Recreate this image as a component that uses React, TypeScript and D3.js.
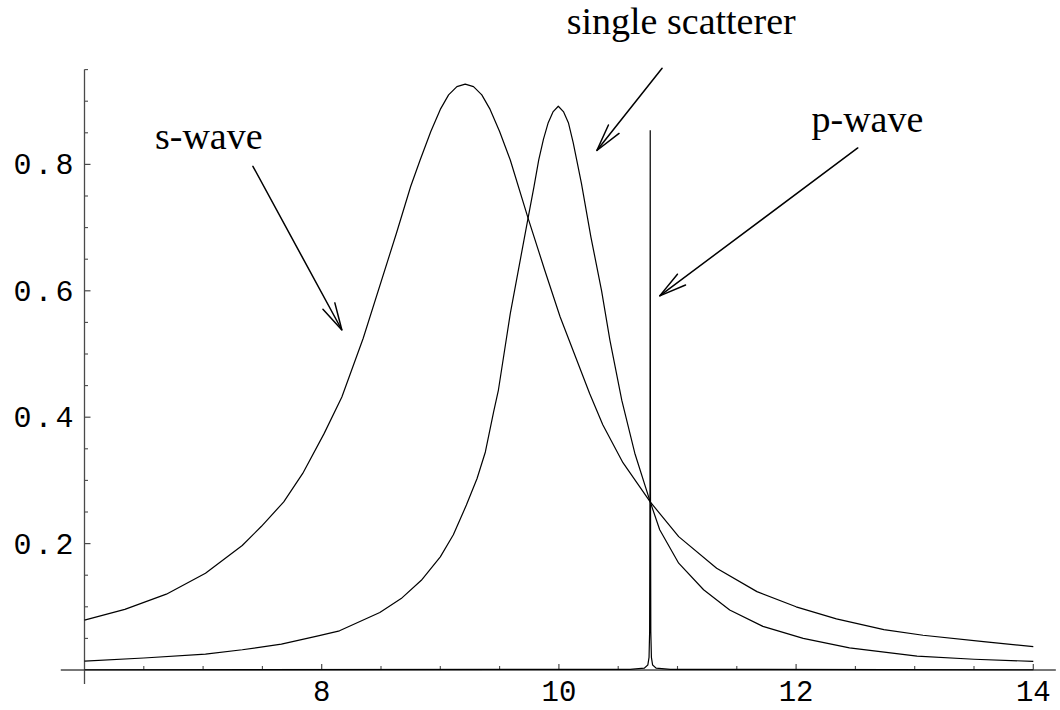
import React from "react";
import * as d3 from "d3";

// s-wave (broad resonance): [x, value]
const sWaveX = [6.0, 6.34, 6.69, 7.02, 7.33, 7.49, 7.68, 7.84, 8.02, 8.17, 8.35, 8.63, 8.75, 8.83, 8.92, 9.0, 9.07, 9.14, 9.21, 9.28, 9.35, 9.42, 9.5, 9.59, 9.74, 9.88, 10.01, 10.26, 10.37, 10.54, 10.77, 11.01, 11.33, 11.67, 12.0, 12.34, 12.74, 13.07, 13.58, 14.0];
const sWaveY = [0.079, 0.096, 0.12, 0.153, 0.197, 0.227, 0.266, 0.311, 0.374, 0.432, 0.525, 0.691, 0.765, 0.807, 0.852, 0.887, 0.91, 0.923, 0.927, 0.923, 0.91, 0.887, 0.852, 0.807, 0.715, 0.633, 0.559, 0.437, 0.388, 0.328, 0.266, 0.211, 0.161, 0.124, 0.1, 0.081, 0.064, 0.055, 0.045, 0.037];

// single scatterer
const singleX = [6.0, 6.5, 7.02, 7.33, 7.66, 7.97, 8.15, 8.49, 8.67, 8.84, 9.0, 9.11, 9.22, 9.31, 9.38, 9.45, 9.49, 9.59, 9.74, 9.79, 9.83, 9.87, 9.91, 9.95, 9.995, 10.04, 10.08, 10.12, 10.15, 10.19, 10.27, 10.36, 10.43, 10.53, 10.64, 10.77, 10.85, 11.01, 11.22, 11.44, 11.72, 12.06, 12.45, 13.02, 13.5, 14.0];
const singleY = [0.014, 0.019, 0.025, 0.032, 0.041, 0.054, 0.062, 0.091, 0.113, 0.142, 0.179, 0.214, 0.261, 0.303, 0.345, 0.409, 0.443, 0.564, 0.715, 0.765, 0.807, 0.84, 0.866, 0.883, 0.892, 0.883, 0.866, 0.835, 0.807, 0.77, 0.685, 0.6, 0.522, 0.427, 0.343, 0.266, 0.222, 0.169, 0.127, 0.095, 0.069, 0.05, 0.035, 0.022, 0.017, 0.0137];

// p-wave (very narrow resonance)
const pWaveX = [6.0, 10.6, 10.72, 10.75, 10.76, 10.765, 10.768, 10.77, 10.772, 10.775, 10.78, 10.79, 10.82, 10.94, 14.0];
const pWaveY = [0.0004, 0.001, 0.003, 0.008, 0.02, 0.06, 0.3, 0.854, 0.3, 0.06, 0.02, 0.008, 0.003, 0.001, 0.0004];

const xMajorTicks = [8, 10, 12, 14];
const xMinorTicks = [6.5, 7, 7.5, 8.5, 9, 9.5, 10.5, 11, 11.5, 12.5, 13, 13.5];
const yMajorTicks = [0.2, 0.4, 0.6, 0.8];
const yMinorTicks = [0.05, 0.1, 0.15, 0.25, 0.3, 0.35, 0.45, 0.5, 0.55, 0.65, 0.7, 0.75, 0.85, 0.9, 0.95];

// annotations: label, label position [x, y] in data units, arrow start/end in data units
const labels = ["s-wave", "single scatterer", "p-wave"];
const labelAt: [number, number][] = [[6.594, 0.824], [10.066, 1.006], [12.13, 0.851]];
const arrowFrom: [number, number][] = [[7.42, 0.797], [10.87, 0.952], [12.52, 0.826]];
const arrowTo: [number, number][] = [[8.17, 0.538], [10.32, 0.822], [10.85, 0.592]];

export default function App() {
  const width = 1060;
  const height = 710;
  const x = d3.scaleLinear().domain([6, 14]).range([84.5, 1033.3]);
  const y = d3.scaleLinear().domain([0, 1]).range([670, 38]);

  const line = d3
    .line<[number, number]>()
    .x((d) => x(d[0]))
    .y((d) => y(d[1]));

  const zip = (xs: number[], ys: number[]) => xs.map((v, i) => [v, ys[i]] as [number, number]);

  const axisColor = "#4a4a4a";
  const monoFont = "'Liberation Mono', 'DejaVu Sans Mono', monospace";
  const serifFont = "'Liberation Serif', 'Times New Roman', serif";

  const arrow = (i: number) => {
    const x1 = x(arrowFrom[i][0]);
    const y1 = y(arrowFrom[i][1]);
    const x2 = x(arrowTo[i][0]);
    const y2 = y(arrowTo[i][1]);
    const ang = Math.atan2(y1 - y2, x1 - x2);
    const L = 28;
    const a = (14 * Math.PI) / 180;
    const b1 = [x2 + L * Math.cos(ang + a), y2 + L * Math.sin(ang + a)];
    const b2 = [x2 + L * Math.cos(ang - a), y2 + L * Math.sin(ang - a)];
    return (
      <g key={"arr" + i} stroke="#000" strokeWidth={1.5} fill="none" strokeLinecap="round">
        <line x1={x1} y1={y1} x2={x2} y2={y2} />
        <polyline points={`${b1[0]},${b1[1]} ${x2},${y2} ${b2[0]},${b2[1]}`} strokeLinejoin="miter" />
      </g>
    );
  };

  return (
    <svg
      width={width}
      height={height}
      style={{ position: "absolute", left: 0, top: 0, background: "#fff" }}
    >
      <rect x={0} y={0} width={width} height={height} fill="#fff" />
      {/* axes */}
      <line x1={x(5.8)} x2={x(14.19)} y1={y(0)} y2={y(0)} stroke={axisColor} strokeWidth={1.3} />
      <line x1={x(6)} x2={x(6)} y1={y(-0.022)} y2={y(0.95)} stroke={axisColor} strokeWidth={1.3} />
      {xMajorTicks.map((t) => (
        <g key={"xt" + t}>
          <line x1={x(t)} x2={x(t)} y1={y(0)} y2={y(0) - 6} stroke={axisColor} strokeWidth={1.2} />
          <text x={x(t)} y={701} textAnchor="middle" fontFamily={monoFont} fontSize={29} fill="#000">
            {t}
          </text>
        </g>
      ))}
      {xMinorTicks.map((t) => (
        <line key={"xm" + t} x1={x(t)} x2={x(t)} y1={y(0)} y2={y(0) - 4} stroke={axisColor} strokeWidth={1.1} />
      ))}
      {yMajorTicks.map((t) => (
        <g key={"yt" + t}>
          <line x1={x(6)} x2={x(6) + 6} y1={y(t)} y2={y(t)} stroke={axisColor} strokeWidth={1.2} />
          <text
            x={x(6) - 8}
            y={y(t) + 10}
            textAnchor="end"
            fontFamily={monoFont}
            fontSize={30}
            letterSpacing={3}
            fill="#000"
          >
            {t.toFixed(1)}
          </text>
        </g>
      ))}
      {yMinorTicks.map((t) => (
        <line key={"ym" + t} x1={x(6)} x2={x(6) + 3.5} y1={y(t)} y2={y(t)} stroke={axisColor} strokeWidth={1.1} />
      ))}
      {/* curves */}
      <path d={line(zip(sWaveX, sWaveY)) || ""} fill="none" stroke="#000" strokeWidth={1.2} strokeLinejoin="round" />
      <path d={line(zip(singleX, singleY)) || ""} fill="none" stroke="#000" strokeWidth={1.2} strokeLinejoin="round" />
      <path d={line(zip(pWaveX, pWaveY)) || ""} fill="none" stroke="#000" strokeWidth={1.2} />
      {/* annotations */}
      {labels.map((l, i) => (
        <text
          key={"lab" + i}
          x={x(labelAt[i][0])}
          y={y(labelAt[i][1])}
          fontFamily={serifFont}
          fontSize={38}
          fill="#000"
        >
          {l}
        </text>
      ))}
      {labels.map((_, i) => arrow(i))}
    </svg>
  );
}
